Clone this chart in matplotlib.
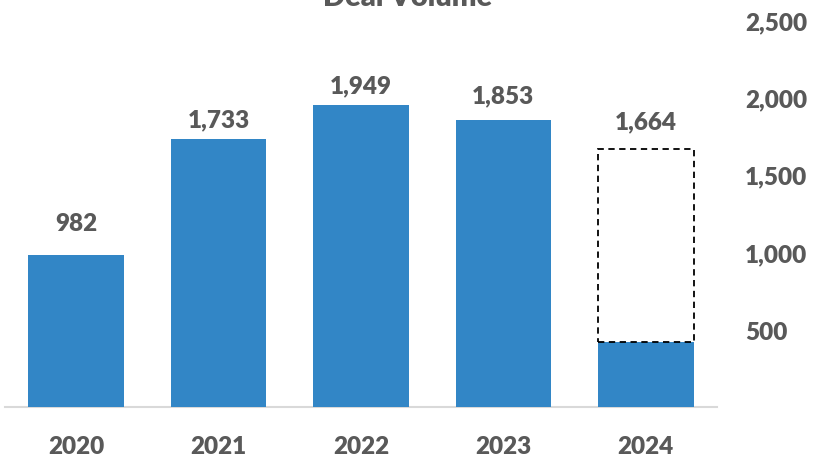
import numpy as np
import matplotlib.pyplot as plt

years = ['2020', '2021', '2022', '2023', '2024']
deal_volume = [982, 1733, 1949, 1853, 1664]
ytd_2024 = 420
yticks = [500, 1000, 1500, 2000, 2500]

# label gaps above bar tops (points), matching the hand-placed labels
label_pad = [15, 6, 6.5, 10, 12]

blue = '#3286C6'
grey = '#595959'
plt.rcParams['font.family'] = ['Lato', 'DejaVu Sans']
wt = 'heavy'

fig = plt.figure(figsize=(8.31, 4.60), dpi=100)
ax = fig.add_axes([5/831, 1 - 408/460, 712/831, 387/460])

x = np.arange(len(years))
full = deal_volume[:-1] + [ytd_2024]
ax.bar(x, full, width=0.67, color=blue, zorder=2)
ax.bar(x[-1], deal_volume[-1] - ytd_2024, bottom=ytd_2024, width=0.67,
       fill=False, edgecolor='black', linestyle=(0, (3.5, 2.5)), linewidth=1.3, zorder=3)

for i, v in enumerate(deal_volume):
    ax.annotate(f'{v:,}', (x[i], v), xytext=(0, label_pad[i]), textcoords='offset points',
                ha='center', va='bottom', fontsize=17.5, fontweight=wt, color=grey)

ax.set_xlim(-0.5, 4.5)
ax.set_ylim(0, 2500)
ax.set_xticks(x)
ax.set_xticklabels(years)
ax.set_yticks(yticks)
ax.set_yticklabels([f'{t:,}' for t in yticks])
ax.yaxis.tick_right()
ax.tick_params(axis='y', length=0, pad=20, labelsize=17.5, labelcolor=grey)
ax.tick_params(axis='x', length=0, pad=20, labelsize=17.5, labelcolor=grey)
for lab in ax.get_xticklabels() + ax.get_yticklabels():
    lab.set_fontweight(wt)

for s in ['top', 'right', 'left']:
    ax.spines[s].set_visible(False)
ax.spines['bottom'].set_color('#D9D9D9')
ax.spines['bottom'].set_linewidth(1.5)
ax.spines['bottom'].set_zorder(1)

fig.text(408/831, 1 - 6/460, 'Deal Volume', ha='center', va='baseline',
         fontsize=21, fontweight=wt, color=grey)

fig.savefig('out.png', dpi=100)
